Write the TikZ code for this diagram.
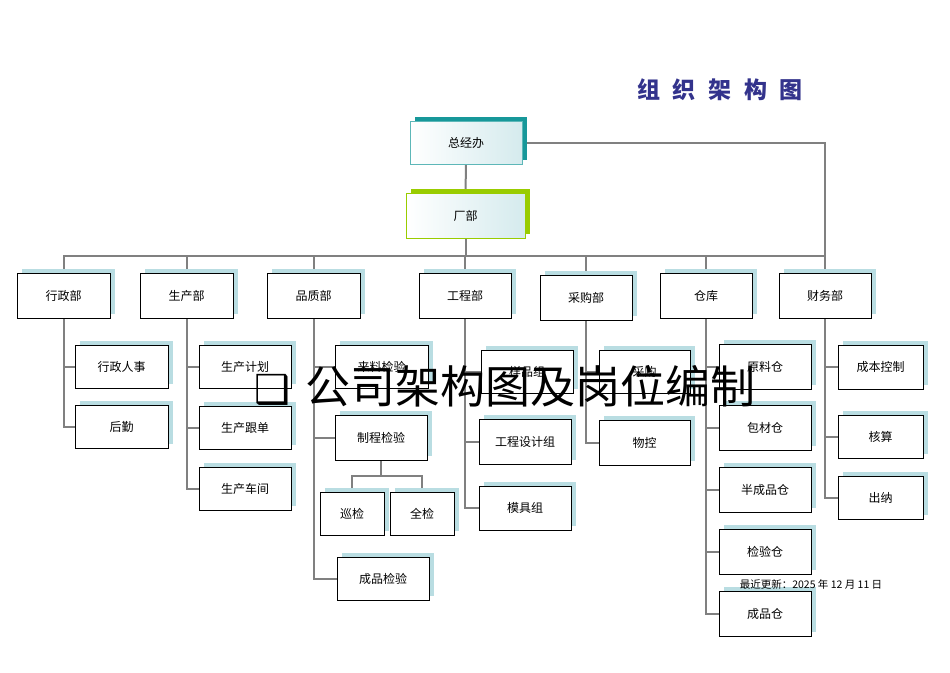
\documentclass[tikz,border=0pt]{standalone}
\usepackage{fontspec}
\setmainfont{Noto Sans CJK SC}
\newfontfamily\symf{DejaVu Sans}
\usetikzlibrary{backgrounds}
\definecolor{sh}{HTML}{B9DDE2}
\definecolor{ln}{HTML}{808080}
\definecolor{teal2}{HTML}{17989A}
\definecolor{lime2}{HTML}{99CC00}
\definecolor{navy}{HTML}{33338C}
\tikzset{
  box/.style={draw=black,line width=0.6pt,fill=white,inner sep=0pt,font=\fontsize{12}{14}\selectfont,
    preaction={fill=sh,draw=none,transform canvas={xshift=5pt,yshift=4pt}}},
  topbox/.style={draw=teal2!70,line width=0.8pt,left color=white,right color=sh!60,inner sep=0pt,font=\fontsize{12}{14}\selectfont},
  conn/.style={draw=ln,line width=2pt}
}
\newcommand\bx[7][box]{\node[#1,minimum width={(#5-#3)*1pt},minimum height={(#6-#4)*1pt}] (#2) at ({(#3+#5)/2},{(#4+#6)/2}) {#7};}
\begin{document}
\begin{tikzpicture}[x=1pt,y=-1pt]
\useasboundingbox (0,0) rectangle (950,672);
% top boxes
\fill[teal2] (415,117) rectangle (527,160);
\bx[topbox]{zjb}{410}{121}{522}{164}{总经办}
\fill[lime2] (411,189) rectangle (530,234);
\bx[topbox,draw=lime2]{cb}{406}{193}{525}{238}{厂部}
% departments
\bx{xz}{17}{273}{110}{318}{行政部}
\bx{sc}{140}{273}{233}{318}{生产部}
\bx{pz}{267}{273}{360}{318}{品质部}
\bx{gc}{419}{273}{511}{318}{工程部}
\bx{cg}{540}{275}{632}{320}{采购部}
\bx{ck}{660}{273}{752}{318}{仓库}
\bx{cw}{779}{273}{871}{318}{财务部}
% subs
\bx{xz1}{75}{345}{168}{388}{行政人事}
\bx{xz2}{75}{405}{168}{448}{后勤}
\bx{sc1}{199}{345}{291}{388}{生产计划}
\bx{sc2}{199}{406}{291}{449}{生产跟单}
\bx{sc3}{199}{467}{291}{510}{生产车间}
\bx{pz1}{335}{345}{428}{388}{来料检验}
\bx{pz2}{335}{415}{427}{460}{制程检验}
\bx{pz3}{320}{492}{384}{535}{巡检}
\bx{pz4}{390}{492}{454}{535}{全检}
\bx{pz5}{337}{557}{429}{600}{成品检验}
\bx{gc1}{481}{350}{573}{393}{样品组}
\bx{gc2}{479}{419}{571}{464}{工程设计组}
\bx{gc3}{479}{486}{571}{530}{模具组}
\bx{cg1}{599}{350}{690}{393}{采购}
\bx{cg2}{599}{420}{690}{465}{物控}
\bx{ck1}{719}{344}{811}{389}{原料仓}
\bx{ck2}{719}{405}{811}{450}{包材仓}
\bx{ck3}{719}{467}{811}{512}{半成品仓}
\bx{ck4}{719}{529}{811}{574}{检验仓}
\bx{ck5}{719}{591}{811}{636}{成品仓}
\bx{cw1}{838}{345}{923}{389}{成本控制}
\bx{cw2}{838}{415}{923}{458}{核算}
\bx{cw3}{838}{476}{923}{519}{出纳}
\coordinate (busy) at (0,256);
\begin{scope}[on background layer]
\draw[conn] (zjb.south) -- (cb.north);
\draw[conn] (zjb.east) -| (cw.north);
\draw[conn] (cb.south) -- (cb.south|-busy);
\draw[conn] (xz.north) -- (xz.north|-busy) -- (cw.north|-busy) -- (cw.north);
\foreach \d in {sc,pz,gc,cg,ck} \draw[conn] (\d.north) -- (\d.north|-busy);
\foreach \p/\c in {xz/xz1,xz/xz2,sc/sc1,sc/sc2,sc/sc3,pz/pz1,pz/pz2,pz/pz5,gc/gc1,gc/gc2,gc/gc3,cg/cg1,cg/cg2,ck/ck1,ck/ck2,ck/ck3,ck/ck4,ck/ck5,cw/cw1,cw/cw2,cw/cw3}
  \draw[conn] (\p.south) |- (\c.west);
\draw[conn] (pz2.south) -- ++(0,16) coordinate (pzm) -| (pz3.north);
\draw[conn] (pzm) -| (pz4.north);
\end{scope}
\node[font=\fontsize{23}{26}\selectfont\bfseries,text=navy] (title) at (720,90) {组\hspace{0.55em}织\hspace{0.55em}架\hspace{0.55em}构\hspace{0.55em}图};
\node[font=\fontsize{45}{48}\selectfont] (big) at (505,386) {{\symf\bfseries\fontsize{40}{44}\selectfont ❑}\,\,公司架构图及岗位编制};
\node[font=\fontsize{10.5}{12}\selectfont] (date) at (811,584) {最近更新：2025 年 12 月 11 日};
\end{tikzpicture}
\end{document}
